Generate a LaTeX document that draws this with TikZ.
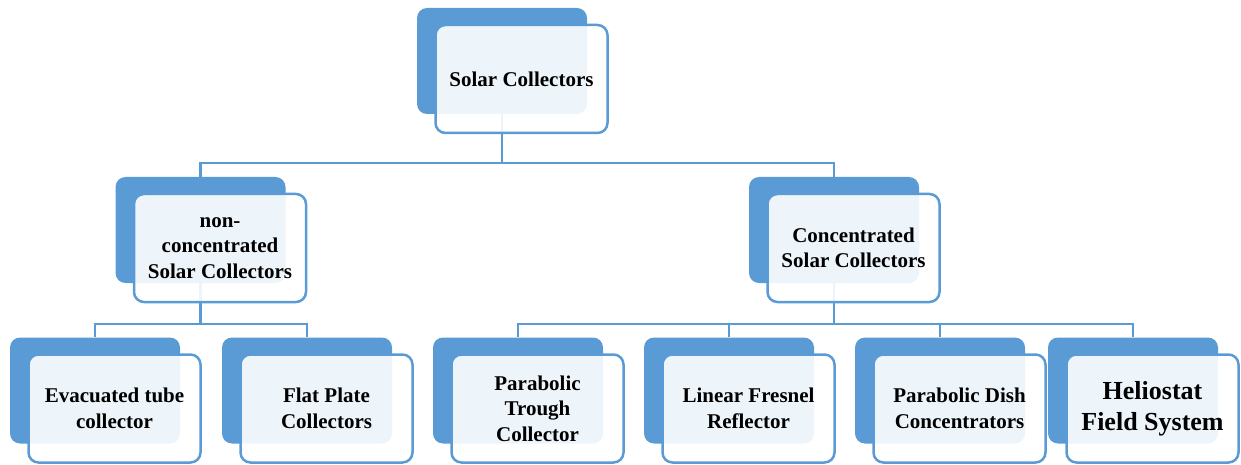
\documentclass[tikz,border=0pt]{standalone}
\usepackage{fontspec}
\setmainfont{Liberation Serif}
\usetikzlibrary{backgrounds}
\definecolor{sblue}{HTML}{5B9BD5}
\begin{document}
\begin{tikzpicture}[x=1pt,y=1pt,
 backbox/.style={fill=sblue, draw=none, rounded corners=10pt, minimum width=170pt, minimum height=106pt, inner sep=0pt},
 frontbox/.style={draw=sblue, line width=2.5pt, fill=white, fill opacity=0.9, text opacity=1, rounded corners=10pt, minimum width=172pt, minimum height=108pt, inner sep=0pt, align=center, font=\bfseries\fontsize{21}{25.5}\selectfont},
 bigtext/.style={font=\bfseries\fontsize{26}{31}\selectfont},
 conn/.style={draw=sblue, line width=2.5pt}]
\useasboundingbox (0,0) rectangle (1241,464);
% level 1
\node[backbox] (bTop) at (502,403) {};
\node[frontbox] (fTop) at (521.5,385) {Solar Collectors};
% level 2
\node[backbox] (bNC) at (200.5,234) {};
\node[frontbox] (fNC) at (220,216) {non-\\concentrated\\Solar Collectors};
\node[backbox] (bCC) at (834,234) {};
\node[frontbox] (fCC) at (853.5,216) {Concentrated\\Solar Collectors};
% level 3
\node[backbox] (bET) at (95,73.5) {};
\node[frontbox] (fET) at (114.5,55.5) {Evacuated tube\\collector};
\node[backbox] (bFP) at (307,73.5) {};
\node[frontbox] (fFP) at (326.5,55.5) {Flat Plate\\Collectors};
\node[backbox] (bPT) at (518,73.5) {};
\node[frontbox] (fPT) at (537.5,55.5) {Parabolic\\Trough\\Collector};
\node[backbox] (bLF) at (729,73.5) {};
\node[frontbox] (fLF) at (748.5,55.5) {Linear Fresnel\\Reflector};
\node[backbox] (bPD) at (940,73.5) {};
\node[frontbox] (fPD) at (959.5,55.5) {Parabolic Dish\\Concentrators};
\node[backbox] (bHF) at (1133,73.5) {};
\node[frontbox, bigtext] (fHF) at (1152.5,55.5) {Heliostat\\Field System};
% connectors
\begin{pgfonlayer}{background}
\coordinate (j1) at (502,301);
\coordinate (j2) at (200.5,140);
\coordinate (j3) at (834,140);
\draw[conn] (bTop.south) -- (j1) -| (bNC.north);
\draw[conn] (j1) -| (bCC.north);
\draw[conn] (bNC.south) -- (j2) -| (bET.north);
\draw[conn] (j2) -| (bFP.north);
\draw[conn] (bCC.south) -- (j3) -| (bPT.north);
\draw[conn] (j3) -| (bLF.north);
\draw[conn] (j3) -| (bPD.north);
\draw[conn] (j3) -| (bHF.north);
\end{pgfonlayer}
\end{tikzpicture}
\end{document}
